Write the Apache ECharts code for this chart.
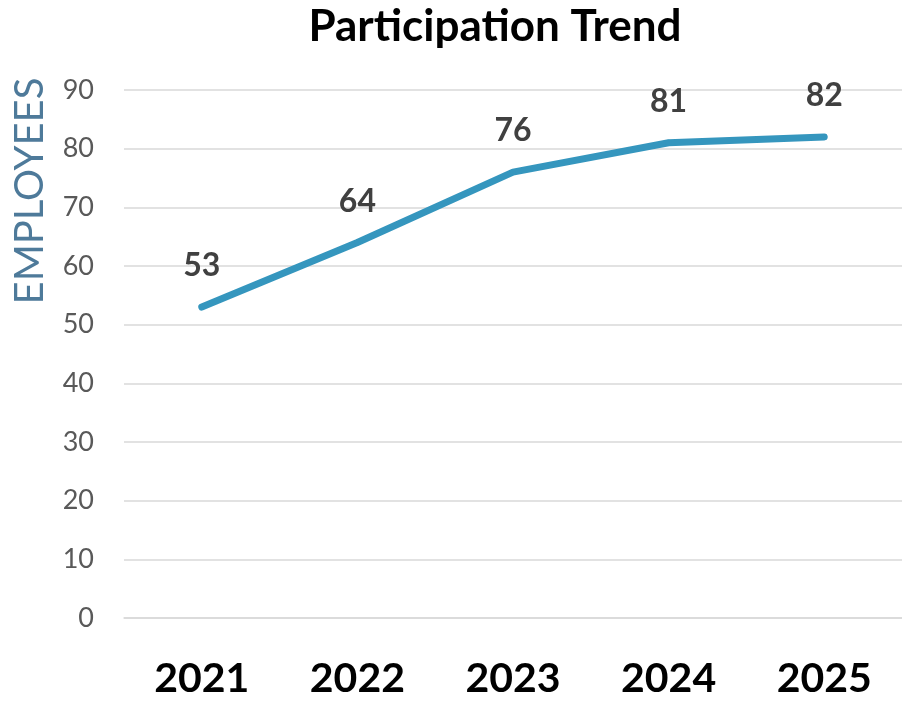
<!DOCTYPE html>
<html><head><meta charset="utf-8">
<script src="https://cdn.jsdelivr.net/npm/echarts@6/dist/echarts.min.js"></script>
<style>html,body{margin:0;padding:0;background:#fff}#c{width:902px;height:701px}</style>
</head><body><div id="c"></div>
<script>
const categories = ['2021','2022','2023','2024','2025'];
const employees = [53, 64, 76, 81, 82];
const yTicks = [0,10,20,30,40,50,60,70,80,90];
const chart = echarts.init(document.getElementById('c'));
chart.setOption({
  animation: false,
  title: { text: 'Participation Trend', left: 490, top: 0, textAlign: 'center',
    textStyle: { fontFamily: 'Lato', fontWeight: 'bold', fontSize: 44, color: '#000' } },
  grid: { left: 124, right: -3, top: 90, bottom: 83 },
  graphic: [{ type: 'text', x: 30, y: 191, rotation: Math.PI/2,
    style: { text: 'EMPLOYEES', fontFamily: 'Lato', fontSize: 40, fill: '#4e7a9a', align: 'center', verticalAlign: 'middle' } }],
  xAxis: { type: 'category', data: categories, boundaryGap: true,
    axisLine: { lineStyle: { color: '#d9d9d9', width: 1.5 } }, axisTick: { show: false },
    axisLabel: { fontFamily: 'Lato', fontWeight: 'bold', fontSize: 41, color: '#000', margin: 40 } },
  yAxis: { type: 'value', min: yTicks[0], max: yTicks[yTicks.length-1], interval: 10,
    axisLine: { show: false }, axisTick: { show: false },
    splitLine: { lineStyle: { color: '#d9d9d9', width: 1.5 } },
    axisLabel: { fontFamily: 'Lato', fontSize: 27, color: '#595959', margin: 30 } },
  series: [{ type: 'line', data: employees, symbol: 'circle', symbolSize: 6, showSymbol: true,
    itemStyle: { color: '#3596be', borderWidth: 0 },
    lineStyle: { color: '#3596be', width: 7, cap: 'round', join: 'round' },
    label: { show: true, position: 'top', distance: 22, fontFamily: 'Lato', fontWeight: 'bold', fontSize: 32, color: '#404040' } }]
});
</script></body></html>
